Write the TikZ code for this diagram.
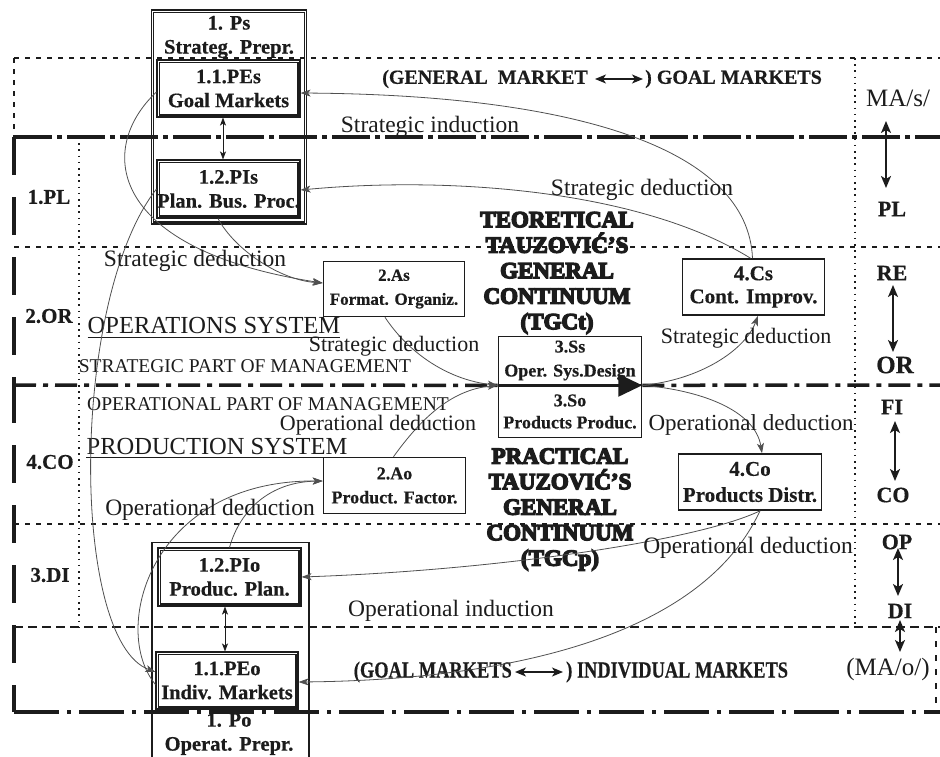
\documentclass[tikz,border=0pt]{standalone}
\usepackage{fontspec}
\setmainfont{Liberation Serif}[BoldFeatures={FakeBold=0.5}]
\newfontfamily\heavyfont[FakeBold=6]{Liberation Serif Bold}
\usetikzlibrary{arrows.meta}
\definecolor{ink}{HTML}{1C1C1C}
\definecolor{wirec}{HTML}{505050}

\tikzset{
  txt/.style={text=ink, inner sep=0pt},
  boxfont/.style={font=\fontsize{20.5}{24}\selectfont\bfseries},
  dbox/.style={draw=ink, line width=1.1pt, inner sep=0pt, align=center, text=ink, boxfont},
  inner/.style={draw=ink, line width=1.1pt},
  sbox/.style={draw=ink, line width=1.6pt, inner sep=0pt, align=center, text=ink},
  heavy/.style={txt, align=center, font=\heavyfont\fontsize{23}{25.5}\selectfont},
  lbl/.style={txt, font=\fontsize{23.5}{26}\selectfont},
  caps/.style={txt, font=\fontsize{19.5}{22}\selectfont},
  sysname/.style={txt, font=\fontsize{24.5}{27}\selectfont},
  side/.style={txt, font=\fontsize{21}{24}\selectfont\bfseries},
  rside/.style={txt, font=\fontsize{22}{24}\selectfont\bfseries},
  market/.style={txt, font=\fontsize{20}{24}\selectfont\bfseries},
  wire/.style={draw=wirec, line width=0.8pt, -{Stealth[length=10pt,width=7pt,inset=2.5pt]}},
  pair/.style={draw=ink, line width=0.8pt,
               {Stealth[length=8pt,width=6pt,inset=2pt]}-{Stealth[length=8pt,width=6pt,inset=2pt]}},
  vpair/.style={draw=ink, line width=1.6pt,
               {Stealth[length=12pt,width=10pt,inset=3pt]}-{Stealth[length=12pt,width=10pt,inset=3pt]}},
  tpair/.style={draw=ink, line width=1.4pt,
               {Stealth[length=11pt,width=9pt,inset=3pt]}-{Stealth[length=11pt,width=9pt,inset=3pt]}},
  fineline/.style={draw=ink, line width=1.1pt, dash pattern=on 5pt off 6pt},
  dotline/.style={draw=ink, line width=1.5pt, dash pattern=on 1.6pt off 4.6pt},
  dashline/.style={draw=ink, line width=1.2pt, dash pattern=on 9pt off 5pt},
  edgeline/.style={draw=ink, line width=1.1pt, dash pattern=on 6pt off 8pt},
  heavytop/.style={draw=ink, line width=3.2pt, dash pattern=on 38pt off 5pt on 5pt off 5pt},
  heavymid/.style={draw=ink, line width=3.5pt, dash pattern=on 22pt off 7pt on 5pt off 7pt},
  heavybot/.style={draw=ink, line width=3.2pt, dash pattern=on 45pt off 8pt on 4pt off 8pt},
  heavyside/.style={draw=ink, line width=3.5pt, dash pattern=on 38pt off 22pt},
  flow/.style={draw=ink, line width=3.5pt, -{Triangle[length=24pt,width=22pt]}}
}

\begin{document}
\begin{tikzpicture}[x=1pt, y=-1pt]
\useasboundingbox (0,0) rectangle (940,756);
\clip (0,0) rectangle (940,756);
\fill[white] (0,0) rectangle (940,756);

% ---- level boundaries ----
\draw[fineline] (14,58) -- (940,58);
\draw[fineline] (14,58) -- (14,137);
\draw[fineline] (14,247) -- (940,247);
\draw[fineline] (14,524) -- (940,524);
\draw[dashline] (14,627) -- (940,627);
\draw[dotline] (79,137) -- (79,627);
\draw[dotline] (855,58) -- (855,627);
\draw[edgeline] (936,627) -- (936,712);
\draw[heavytop] (14,137) -- (940,137);
\draw[heavyside] (14,137) -- (14,385);
\draw[heavyside] (14,385) -- (14,712);
\draw[heavybot] (14,712) -- (940,712);

% ---- preparation blocks (double frames) ----
\node[dbox, minimum width=155, minimum height=214] (Ps) at (229,117) {};
\node[txt, align=center, boxfont] (PsLbl) at (229,37) {1. Ps\\Strateg. Prepr.};
\node[dbox, minimum width=143, minimum height=57] (PEs) at (228.5,88.5) {1.1.PEs\\Goal Markets};
\node[dbox, minimum width=143, minimum height=58] (PIs) at (228.5,189) {1.2.PIs\\Plan. Bus. Proc.};

\node[dbox, minimum width=157, minimum height=240, anchor=north] (Po) at (230.5,542) {};
\node[dbox, minimum width=143, minimum height=58] (PIo) at (229.5,577) {1.2.PIo\\Produc. Plan.};
\node[dbox, minimum width=142, minimum height=57] (PEo) at (227,680.5) {1.1.PEo\\Indiv. Markets};
\node[txt, align=center, boxfont] (PoLbl) at (229,734) {1. Po\\Operat. Prepr.};

\foreach \b in {Ps,PEs,PIs,PIo,PEo}
  \draw[inner] ([xshift=2.6pt,yshift=-2.6pt]\b.north west) rectangle ([xshift=-2.6pt,yshift=2.6pt]\b.south east);

% ---- process blocks ----
\node[sbox, minimum width=141, minimum height=55, font=\fontsize{17}{24}\selectfont\bfseries] (As) at (394,289) {2.As\\Format. Organiz.};
\node[sbox, minimum width=142, minimum height=56, font=\fontsize{18}{24}\selectfont\bfseries] (Ao) at (394.5,485.5) {2.Ao\\Product. Factor.};
\node[sbox, minimum width=143, minimum height=48, font=\fontsize{18}{24}\selectfont\bfseries] (Ss) at (570,360.5) {3.Ss\\Oper. Sys.Design};
\node[sbox, minimum width=143, minimum height=52, font=\fontsize{18}{22}\selectfont\bfseries] (So) at (570,411.5) {3.So\\Products Produc.};
\node[sbox, minimum width=142, minimum height=56, font=\fontsize{21}{23}\selectfont\bfseries] (Cs) at (753.5,287) {4.Cs\\Cont. Improv.};
\node[sbox, minimum width=143, minimum height=56, font=\fontsize{21}{26}\selectfont\bfseries] (Co) at (750,482) {4.Co\\Products Distr.};

% ---- middle management boundary with the continuum flow ----
\draw[heavymid] (14,385) -- (Ss.south west);
\draw[heavymid] (Ss.south east) -- (940,385);
\draw[flow] (Ss.south west) -- (Ss.south east);

% ---- continuum titles ----
\node[heavy] (TGCt) at (557,273) {TEORETICAL\\TAUZOVIĆ’S\\GENERAL\\CONTINUUM\\(TGCt)};
\node[heavy] (TGCp) at (560,509.5) {PRACTICAL\\TAUZOVIĆ’S\\GENERAL\\CONTINUUM\\(TGCp)};

% ---- market lines ----
\node[market, anchor=east] (GMa) at (588,79) {(GENERAL\ \ MARKET};
\node[market, anchor=west] (GMb) at (645,79) {) GOAL MARKETS};
\draw[tpair, shorten <=7pt, shorten >=2pt] (GMa.east) -- (GMb.west);
\node[market, anchor=east, font=\fontsize{23}{26}\selectfont\bfseries] (IMa) at (512,672) {\scalebox{0.8}[1]{(GOAL MARKETS}};
\node[market, anchor=west, font=\fontsize{23}{26}\selectfont\bfseries] (IMb) at (566,672) {\scalebox{0.8}[1]{) INDIVIDUAL MARKETS}};
\draw[tpair, shorten <=3pt, shorten >=3pt] (IMa.east) -- (IMb.west);

% ---- system names ----
\node[sysname] (OpSys) at (214,326) {OPERATIONS SYSTEM};
\draw[ink, line width=0.9pt] ([yshift=-3pt]OpSys.base west) -- ([yshift=-3pt]OpSys.base east);
\node[caps] (StrPart) at (245,366) {STRATEGIC PART OF MANAGEMENT};
\node[caps] (OpPart) at (268,404) {OPERATIONAL PART OF MANAGEMENT};
\node[sysname] (PrSys) at (217,446) {PRODUCTION SYSTEM};
\draw[ink, line width=0.9pt] ([yshift=-3pt]PrSys.base west) -- ([yshift=-3pt]PrSys.base east);

% ---- level names ----
\node[side] (PL) at (49,197) {1.PL};
\node[side] (OR) at (49,316) {2.OR};
\node[side] (CO) at (50,462) {4.CO};
\node[side] (DI) at (50,575) {3.DI};

\node[txt, anchor=west, font=\fontsize{25}{28}\selectfont] (MAs) at (866,98) {MA/s/};
\node[rside] (PLr) at (892,209) {PL};
\node[rside] (RE) at (892,273) {RE};
\node[rside, font=\fontsize{25}{28}\selectfont\bfseries] (ORr) at (895,365) {OR};
\node[rside] (FI) at (892,407) {FI};
\node[rside] (COr) at (893,495) {CO};
\node[rside] (OP) at (897,542) {OP};
\node[rside] (DIr) at (900,611) {DI};
\node[txt, font=\fontsize{25}{28}\selectfont] (MAo) at (888,669) {(MA/o/)};

\coordinate (v1a) at (886,121); \coordinate (v1b) at (886,188);
\coordinate (v2a) at (893,285); \coordinate (v2b) at (893,352);
\coordinate (v3a) at (895,421); \coordinate (v3b) at (895,481);
\coordinate (v4a) at (898,548); \coordinate (v4b) at (898,596);
\coordinate (v5a) at (900,620); \coordinate (v5b) at (900,652);
\draw[vpair] (v1a) -- (v1b);
\draw[vpair] (v2a) -- (v2b);
\draw[vpair] (v3a) -- (v3b);
\draw[vpair] (v4a) -- (v4b);
\draw[vpair] (v5a) -- (v5b);

% ---- vertical links inside the preparation blocks ----
\draw[pair] ([xshift=-5.5pt]PEs.south) -- ([xshift=-5.5pt]PIs.north);
\draw[pair] ([xshift=-4.5pt]PIo.south) -- ([xshift=-4.5pt]PIo.south |- PEo.north);

% ---- induction / deduction flows ----
\draw[wire] ([xshift=-1pt]Cs.north) .. controls (748,150) and (580,95) .. ([yshift=-4.5pt]PEs.east);
\draw[wire] ([xshift=-3pt]Cs.north) .. controls (640,190) and (450,176) .. ([yshift=-1pt]PIs.east);
\draw[wire] ([yshift=-3.5pt]PEs.west) .. controls (95,150) and (110,250) .. ([yshift=6pt]As.west);
\draw[wire] ([xshift=-10.5pt]PIs.south) .. controls (235,250) and (280,280) .. ([yshift=6pt]As.west);
\draw[wire] (PIs.west) .. controls (70,300) and (70,640) .. ([yshift=8.5pt]PEo.west);
\draw[wire] ([yshift=-4pt]PEo.west) .. controls (110,630) and (150,480) .. ([yshift=4.5pt]Ao.west);
\draw[wire] (PIo.north) .. controls (240,510) and (270,482) .. ([yshift=4.5pt]Ao.west);
\draw[wire] ([xshift=-9pt]As.south) .. controls (410,355) and (450,380) .. (Ss.south west);
\draw[wire] ([xshift=-1pt]Ao.north) .. controls (420,420) and (450,390) .. (Ss.south west);
\draw[wire] (Ss.south east) .. controls (700,380) and (745,350) .. ([xshift=4.5pt]Cs.south);
\draw[wire] (Ss.south east) .. controls (700,390) and (755,410) .. ([xshift=12pt]Co.north);
\draw[wire] ([xshift=10pt]Co.south) .. controls (700,540) and (500,570) .. (PIo.east);
\draw[wire] ([xshift=10pt]Co.south) .. controls (700,640) and (500,680) .. ([yshift=-1.5pt]PEo.east);

% ---- flow labels ----
\node[lbl] (SInd) at (430,127) {Strategic induction};
\node[lbl] (SDed1) at (642,190) {Strategic deduction};
\node[lbl] (SDed2) at (195,261) {Strategic deduction};
\node[lbl, font=\fontsize{22}{26}\selectfont] (SDed3) at (394,346) {Strategic deduction};
\node[lbl, font=\fontsize{22}{26}\selectfont] (SDed4) at (746,338) {Strategic deduction};
\node[lbl, font=\fontsize{22}{26}\selectfont] (ODed1) at (378,425) {Operational deduction};
\node[lbl, font=\fontsize{23}{26}\selectfont] (ODed2) at (751,425) {Operational deduction};
\node[lbl] (ODed3) at (210,510) {Operational deduction};
\node[lbl] (ODed4) at (748,548) {Operational deduction};
\node[lbl] (OInd) at (451,611) {Operational induction};
\end{tikzpicture}
\end{document}
